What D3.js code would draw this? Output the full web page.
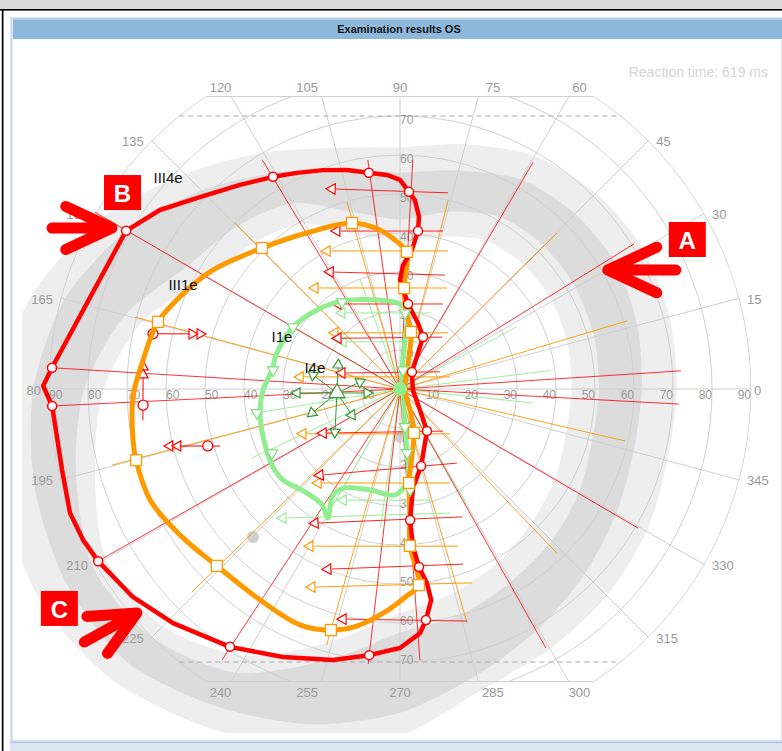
<!DOCTYPE html>
<html><head><meta charset="utf-8">
<script src="https://cdn.jsdelivr.net/npm/d3@7"></script>
<style>
body{margin:0;background:#fff;font-family:"Liberation Sans",Arial,sans-serif}
svg{display:block}
</style></head><body>
<svg id="chart" width="782" height="751"></svg>
<script>
// ---------------- DATA (polar: [angle°, eccentricity°]) ----------------
const title = "Examination results OS";
const reactionText = "Reaction time: 619 ms";
const angleTicks = d3.range(0, 360, 15);
const ringTicks = d3.range(10, 91, 10);
const verticalTicks = d3.range(10, 71, 10);

// normal-range bands, radii at every 15°
const bandAngles = d3.range(0, 360, 15);
const bandOuterLight = [71,71.5,72,71,69,65,62,64,70,78,88,97,104,106,107,105,100,95,89,80,77,75,73,71];
const bandDarkOuter  = [62,63,64,63.5,62,58,55.5,58,64,72,81,89,94,97,99,99,94,89,83,76,71,67,64,62];
const bandDarkInner  = [51,51.5,52,52,51,47,43.5,47,55,59,63,73,81,86,91,90,84,72,62.5,60,57,55,53,51];
const bandInnerLight = [44,44.5,45,45,44,40.5,38,41,49,53,57,68,76,81,87,86,79,67,57.5,54,51,48,46,44];

// isopter III4e (red)
const iii4eLine = [[83.7,44.4],[85.5,48.6],[87.4,50.6],[90,53.6],[93.5,55.0],[98.2,56.0],[103.6,57.8],[109.4,59.5],[115.5,61.4],[120.9,63.4],[128.1,66.5],[136.2,71.1],[143.3,76.8],[150.0,81.1],[176.5,89.4],[179.5,91.5],[182.8,89.3],[193.5,89.1],[200.6,90.4],[205.5,90.0],[209.7,89.1],[217.9,86.8],[225.9,83.6],[236.6,79.2],[246.4,75.0],[256.1,71.6],[263.4,68.7],[270,66.4],[274.7,62.8],[276.4,59.6],[278.4,54.7],[277.9,50.2],[276.1,45.9],[274.7,40.6],[274.4,33.7],[277.6,25.4],[285.3,20.5],[302.7,12.8],[313.6,7.4],[355.6,3.3],[54.8,5.3],[63.4,10.3],[66.1,14.6],[74.7,17.5],[84.6,21.9],[87.6,24.9],[90,27.9],[88.6,31.8],[85.1,35.8],[83.5,40.8]];
const iii4ePoints = [[87.4,50.6],[98.2,56.0],[120.9,63.4],[150.0,81.1],[176.5,89.4],[182.8,89.3],[209.7,89.1],[236.6,79.2],[263.4,68.7],[276.4,59.6],[276.1,45.9],[274.4,33.7],[285.3,20.5],[302.7,12.8],[54.8,5.3],[66.1,14.6],[84.6,21.9],[83.5,40.8]];

// isopter III1e (orange)
const iii1eLine = [[87.1,35.2],[91.9,38.2],[97.2,41.1],[106.1,44.3],[119.8,46.4],[134.4,50.6],[147.5,56.8],[155.1,60.2],[164.5,64.4],[173.6,66.3],[181.7,68.5],[190.8,69.7],[195.1,70.1],[204.0,70.1],[213.6,67.7],[224.0,65.3],[236.4,64.9],[247.0,65.7],[254.0,64.3],[259.5,61.9],[266.2,57.3],[271.4,53.4],[275.5,50.5],[274.9,45.3],[273.6,40.3],[274.5,32.4],[275.5,24.2],[280.3,17.2],[287.7,11.8],[295.5,6.0],[348.7,1.3],[71.6,6.5],[79.1,14.9],[85.7,20.3],[87.7,25.9],[86.8,31.8]];
const iii1ePoints = [[106.1,44.3],[134.4,50.6],[87.1,35.2],[164.5,64.4],[195.1,70.1],[224.0,65.3],[254.0,64.3],[275.5,50.5],[273.6,40.3],[275.5,24.2],[287.7,11.8],[79.1,14.9],[87.7,25.9]];

// isopter I1e (light green)
const i1eLine = [[84.9,20.3],[92.0,22.1],[104.5,23.6],[122.9,26.9],[136.4,29.4],[149.9,31.7],[163.7,32.9],[171.6,33.2],[180.4,35.1],[188.5,36.3],[199.3,37.2],[211.6,38.2],[217.9,38.0],[227.3,35.9],[236.1,35.8],[240.8,37.9],[237.7,32.2],[240.9,29.0],[253.5,27.0],[267.3,27.2],[275.0,23.4],[276.2,16.5],[277.5,9.8],[306.9,1.3],[82.9,4.1],[84.2,12.6]];
const i1ePoints = [[123.7,26.8],[149.9,31.7],[171.5,32.9],[189.5,37.2],[206.6,36.7],[86.2,19.5],[81.0,4.9],[277.5,9.8],[276.2,16.5],[275.7,26.0]];

// I4e blind-spot mapping (dark green): centre and vector ends
const i4eCenter = [183.6,16.2];
const i4eEnds = [[158.8,17.0],[170.9,22.6],[182.2,26.4],[195.3,23.4],[213.5,20.0],[208.4,14.0],[186.9,8.5],[170.1,10.4]];

// kinetic radial vectors: start [angle, ecc] -> fixation
const redRadial = [[149.9,90.4],[176.5,89.4],[182.8,89.3],[209.7,89.1],[236.7,83.1],[263.4,71],[274.2,69.7],[299.4,76.2],[329.7,70.7],[356.9,71.6],[3.7,72.2],[31.8,70.6],[59.6,67.4],[86.8,58.8],[98,59.3],[121,68.6]];
const orangeRadial = [[105.8,49.8],[134.8,60],[164.8,70.4],[194.8,76.4],[224.3,74.5],[254,68.3],[286,62.2],[313.7,58.2],[347,59.2],[16.7,60.8],[44.8,56.8],[75.7,50]];
const greenRadial = [[7,39],[354,34],[28,34],[110,30],[150,33],[189.5,39],[205,42],[240,35],[262,36],[300,34]];

// near-horizontal vectors: [yStart°, xStart°, yEnd°, xEnd°]
const redHoriz = [[50.3,12.3,51.3,-17.4],[40.5,11.0,40.5,-16.2],[29.2,11.5,30.0,-17.9],[21.8,11.0,21.8,-15.9],[13.3,10.8,13.0,-15.9],[4.4,10.3,4.1,-14.9],[-10.8,11.0,-11.3,-19.7],[-19.0,14.6,-22.1,-20.5],[-32.8,15.9,-34.4,-21.8],[-44.9,16.2,-46.2,-18.5],[-59.5,17.2,-59.0,-14.6]];
const orangeHoriz = [[35.4,12.3,35.4,-18.7],[25.9,12.1,25.9,-21.8],[14.4,12.3,14.4,-16.7],[3.1,12.8,3.1,-25.6],[-11.5,12.8,-11.5,-24.9],[-24.1,12.8,-24.1,-21.0],[-40.3,14.9,-40.3,-23.1],[-49.7,18.5,-50.8,-22.6]];
const greenHoriz = [[19.5,7.7,19.5,-14.9],[12.1,7.7,12.1,-14.6],[-28.5,7.7,-28.5,-14.6],[-31.8,12.8,-33.1,-30.0]];

// red vectors with start circle and double arrow: [lineStart, circle, end]
const redDouble = [
  [[167.4,64.9],[167.4,64.9],[164.6,53.2]],
  [[186.9,66.4],[183.6,66.0],[175.1,66.1]],
  [[197.6,48.4],[196.5,51.4],[193.9,60.8]]
];
const grayDots = [[225.2,53.5],[270,12.3]];

const isoLabels = [["III4e",137.7,80.4],["III1e",154.4,61.7],["I1e",156.2,33.1],["I4e",166.1,22.5]];
const annotations = [["A",29.8,61.4,180],["B",150.8,84.6,0],["C",220.4,88.6,-29]];

// ---------------- LAYOUT ----------------
const CX = 400, CY = 389, R = 351;
const COL = {red:"#ff0000", orange:"#ff9900", green:"#90ee90", dgreen:"#339933", grid:"#cfcfcf", label:"#9a9a9a"};
const annoLayout = {A:{shaft:68,wing:54,box:[61,-48]}, B:{shaft:60,wing:51,box:[-8,-53]}, C:{shaft:60,wing:50,box:[-96,-22]}};

const rS = d3.scaleLinear().domain([0,90]).range([0,R]);
const xS = d3.scaleLinear().domain([-90,90]).range([-R,R]);
const yS = d3.scaleLinear().domain([-90,90]).range([R,-R]);
const rad = a => a*Math.PI/180;
const pt = d => [rS(d[1])*Math.cos(rad(d[0])), -rS(d[1])*Math.sin(rad(d[0]))];
const radialLine = d3.lineRadial().angle(d => rad(90-d[0])).radius(d => rS(d[1]));

const svg = d3.select("#chart");

// ---------------- FRAME ----------------
svg.append("rect").attr("x",0).attr("y",0).attr("width",782).attr("height",9).attr("fill","#dadada");
svg.append("rect").attr("x",0).attr("y",9).attr("width",782).attr("height",1.6).attr("fill","#000");
svg.append("rect").attr("x",1.8).attr("y",10).attr("width",1.7).attr("height",741).attr("fill","#000");
svg.append("rect").attr("x",10).attr("y",17).attr("width",772).attr("height",734).attr("fill","#dbe6f2");
svg.append("rect").attr("x",12).attr("y",18.5).attr("width",770).attr("height",722.5).attr("fill","#fff").attr("stroke","#b8cfe7").attr("stroke-width",1);
svg.append("rect").attr("x",13).attr("y",19).attr("width",769).attr("height",20).attr("fill","#8cb9dc");
svg.append("rect").attr("x",13).attr("y",19).attr("width",769).attr("height",1).attr("fill","#b6d0ea");
svg.append("line").attr("x1",10).attr("x2",782).attr("y1",742.5).attr("y2",742.5).attr("stroke","#a9c5e3");
svg.append("text").attr("x",399).attr("y",33).attr("text-anchor","middle").attr("font-size",11).attr("font-weight","bold").attr("fill","#111").text(title);
svg.append("text").attr("x",768).attr("y",77).attr("text-anchor","end").attr("font-size",14).attr("fill","#d4d4d4").text(reactionText);

const defs = svg.append("defs");
defs.append("clipPath").attr("id","plotClip").append("rect").attr("x",22-CX).attr("y",40-CY).attr("width",760).attr("height",733-40);
defs.append("clipPath").attr("id","labelClip").append("rect").attr("x",26.5-CX).attr("y",40-CY).attr("width",755).attr("height",700);
defs.append("clipPath").attr("id","paneRect").append("rect").attr("x",-R-2).attr("y",yS(75)).attr("width",2*R+4).attr("height",yS(-75)-yS(75));
defs.append("clipPath").attr("id","paneCircle").append("circle").attr("r",R+0.5);

const g = svg.append("g").attr("transform",`translate(${CX},${CY})`);

// ---------------- BANDS ----------------
const bandG = g.append("g").attr("clip-path","url(#plotClip)");
const bandLine = d3.lineRadial().angle(d => rad(90-d[0])).radius(d => rS(d[1])).curve(d3.curveCardinalClosed.tension(0.2));
const bandShape = vals => bandLine(bandAngles.map((a,i)=>[a,vals[i]]));
bandG.append("path").attr("d",bandShape(bandOuterLight)).attr("fill","#eeeeee");
bandG.append("path").attr("d",bandShape(bandDarkOuter)).attr("fill","#dcdcdc");
bandG.append("path").attr("d",bandShape(bandDarkInner)).attr("fill","#eeeeee");
bandG.append("path").attr("d",bandShape(bandInnerLight)).attr("fill","#ffffff");

// ---------------- GRID ----------------
const gridOuter = g.append("g").attr("clip-path","url(#paneRect)");
const grid = gridOuter.append("g").attr("clip-path","url(#paneCircle)");
ringTicks.forEach(v => grid.append("circle").attr("r",rS(v)).attr("fill","none").attr("stroke",COL.grid).attr("stroke-width",1));
angleTicks.forEach(a => {
  const p = pt([a,95]);
  grid.append("line").attr("x1",0).attr("y1",0).attr("x2",p[0]).attr("y2",p[1]).attr("stroke",COL.grid).attr("stroke-width",1);
});
[75,-75].forEach(v => {
  const hx = xS(Math.sqrt(90*90 - v*v));
  g.append("line").attr("x1",-hx).attr("x2",hx).attr("y1",yS(v)).attr("y2",yS(v)).attr("stroke",COL.grid);
});
[70,-70].forEach(v => {
  const hx = xS(Math.sqrt(90*90 - v*v));
  g.append("line").attr("x1",-hx).attr("x2",hx).attr("y1",yS(v)).attr("y2",yS(v)).attr("stroke","#a8a8a8").attr("stroke-dasharray","5,4");
});

// angle labels
const labG = g.append("g").attr("clip-path","url(#labelClip)");
angleTicks.forEach(a => {
  const s = Math.sin(rad(a)), c = Math.cos(rad(a));
  let x, y, anchor;
  if (Math.abs(s)*90 > 75.5) {
    x = (R+8)*c; y = s > 0 ? yS(75)-9 : yS(-75)+11; anchor = "middle";
  } else {
    x = R*c + (a===0 ? 3 : (c>0 ? 8 : -8)); y = -R*s + 1; anchor = c>0.01 ? "start" : "end";
  }
  labG.append("text").attr("x",x).attr("y",y).attr("dy","0.35em").attr("text-anchor",anchor)
    .attr("font-size",13).attr("fill",COL.label).text(a);
});
// radial tick labels
ringTicks.forEach(v => {
  g.append("text").attr("x",xS(v)).attr("y",6).attr("dy","0.35em").attr("text-anchor","end").attr("font-size",12).attr("fill",COL.label).text(v);
  g.append("text").attr("x",xS(-v)).attr("y",6).attr("dy","0.35em").attr("text-anchor","start").attr("font-size",12).attr("fill",COL.label).text(v);
});
verticalTicks.forEach(v => {
  g.append("text").attr("x",0).attr("y",yS(v)+4).attr("dy","0.35em").attr("font-size",12).attr("fill",COL.label).text(v);
  g.append("text").attr("x",0).attr("y",yS(-v)-2).attr("dy","0.35em").attr("font-size",12).attr("fill",COL.label).text(v);
});

// ---------------- MARKER HELPERS ----------------
function tri(parent, x, y, rot, color, size, fill) {
  parent.append("path").attr("d", d3.symbol(d3.symbolTriangle, size)())
    .attr("transform",`translate(${x},${y}) rotate(${rot})`)
    .attr("fill", fill || "#fff").attr("stroke", color).attr("stroke-width",1.2);
}

// gray dots
grayDots.forEach(d => { const p = pt(d); g.append("circle").attr("cx",p[0]).attr("cy",p[1]).attr("r",6).attr("fill","#cfcfcf"); });

// ---------------- VECTORS ----------------
const vecG = g.append("g");
function radials(list, color, op) {
  list.forEach(d => {
    vecG.append("path").attr("d", radialLine([d,[d[0],0]])).attr("stroke",color).attr("stroke-width",1).attr("stroke-opacity",op).attr("fill","none");
  });
}
radials(greenRadial, COL.green, 0.9);
radials(orangeRadial, COL.orange, 0.9);
radials(redRadial, COL.red, 0.8);

function horiz(list, color, op) {
  list.forEach(d => {
    const x1 = xS(d[1]), y1 = yS(d[0]), x2 = xS(d[3]), y2 = yS(d[2]);
    const ang = Math.atan2(y2-y1, x2-x1);
    vecG.append("line").attr("x1",x1).attr("y1",y1).attr("x2",x2-4*Math.cos(ang)).attr("y2",y2-4*Math.sin(ang))
      .attr("stroke",color).attr("stroke-opacity",op).attr("stroke-width",1);
    tri(vecG, x2, y2, ang*180/Math.PI+90, color, 48);
  });
}
horiz(greenHoriz, COL.green, 1);
horiz(orangeHoriz, COL.orange, 1);
horiz(redHoriz, COL.red, 0.85);

// blind spot vectors (I4e)
const bc = pt(i4eCenter);
i4eEnds.forEach(d => {
  const p = pt(d);
  vecG.append("line").attr("x1",bc[0]).attr("y1",bc[1]).attr("x2",p[0]).attr("y2",p[1]).attr("stroke",COL.dgreen).attr("stroke-width",1);
  const ang = Math.atan2(p[1]-bc[1], p[0]-bc[0])*180/Math.PI + 90;
  tri(vecG, p[0], p[1], ang, COL.dgreen, 45);
});
tri(vecG, bc[0], bc[1], 0, COL.dgreen, 110);

// red double-arrow vectors
redDouble.forEach(([s, c, e]) => {
  const ps = pt(s), pc = pt(c), pe = pt(e);
  vecG.append("line").attr("x1",ps[0]).attr("y1",ps[1]).attr("x2",pe[0]).attr("y2",pe[1]).attr("stroke",COL.red).attr("stroke-width",1);
  const ang = Math.atan2(pe[1]-ps[1], pe[0]-ps[0]);
  [0, 8].forEach(off => tri(vecG, pe[0]-off*Math.cos(ang), pe[1]-off*Math.sin(ang), ang*180/Math.PI+90, COL.red, 45));
  vecG.append("circle").attr("cx",pc[0]).attr("cy",pc[1]).attr("r",5).attr("fill","#fff").attr("stroke",COL.red).attr("stroke-width",1.3);
});

// ---------------- ISOPTERS ----------------
const smooth = d3.lineRadial().angle(d => rad(90-d[0])).radius(d => rS(d[1])).curve(d3.curveCatmullRomClosed.alpha(0.5));
const linear = d3.lineRadial().angle(d => rad(90-d[0])).radius(d => rS(d[1])).curve(d3.curveLinearClosed);
g.append("path").attr("d",smooth(i1eLine)).attr("fill","none").attr("stroke",COL.green).attr("stroke-width",5).attr("stroke-linejoin","round");
g.append("path").attr("d",smooth(iii1eLine)).attr("fill","none").attr("stroke",COL.orange).attr("stroke-width",5).attr("stroke-linejoin","round");
g.append("path").attr("d",linear(iii4eLine)).attr("fill","none").attr("stroke",COL.red).attr("stroke-width",4.5).attr("stroke-linejoin","round");

// centre cluster
g.append("circle").attr("r",7).attr("fill",COL.green);

// markers
i1ePoints.forEach(d => { const p = pt(d); tri(g, p[0], p[1], 180, "#7ee07e", 55); });
iii1ePoints.forEach(d => { const p = pt(d);
  g.append("rect").attr("x",p[0]-5.5).attr("y",p[1]-5.5).attr("width",11).attr("height",11).attr("fill","#fff").attr("stroke",COL.orange).attr("stroke-width",1.3); });
iii4ePoints.forEach(d => { const p = pt(d);
  g.append("circle").attr("cx",p[0]).attr("cy",p[1]).attr("r",4.5).attr("fill","#fff").attr("stroke",COL.red).attr("stroke-width",1.5); });

// isopter labels
isoLabels.forEach(([t,a,v]) => { const p = pt([a,v]);
  g.append("text").attr("x",p[0]).attr("y",p[1]).attr("dy","0.35em").attr("text-anchor","middle").attr("font-size",15).attr("fill","#111").text(t); });

// ---------------- ANNOTATIONS ----------------
annotations.forEach(([label, a, v, dir]) => {
  const L = annoLayout[label];
  const t = pt([a, v]);
  const dr = rad(dir);
  const tail = [t[0]-L.shaft*Math.cos(dr), t[1]-L.shaft*Math.sin(dr)];
  const w1 = [t[0]+L.wing*Math.cos(dr+Math.PI+rad(25)), t[1]+L.wing*Math.sin(dr+Math.PI+rad(25))];
  const w2 = [t[0]+L.wing*Math.cos(dr+Math.PI-rad(25)), t[1]+L.wing*Math.sin(dr+Math.PI-rad(25))];
  g.append("path").attr("d",`M${tail}L${t}M${w1}L${t}L${w2}`).attr("fill","none").attr("stroke","#ff0000")
    .attr("stroke-width",11).attr("stroke-linecap","round").attr("stroke-linejoin","round");
  const bx = t[0]+L.box[0], by = t[1]+L.box[1];
  g.append("rect").attr("x",bx).attr("y",by).attr("width",37).attr("height",35).attr("fill","#ff0000");
  g.append("text").attr("x",bx+18.5).attr("y",by+18).attr("dy","0.36em").attr("text-anchor","middle").attr("font-size",24).attr("font-weight","bold").attr("fill","#fff").text(label);
});
</script>
</body></html>
